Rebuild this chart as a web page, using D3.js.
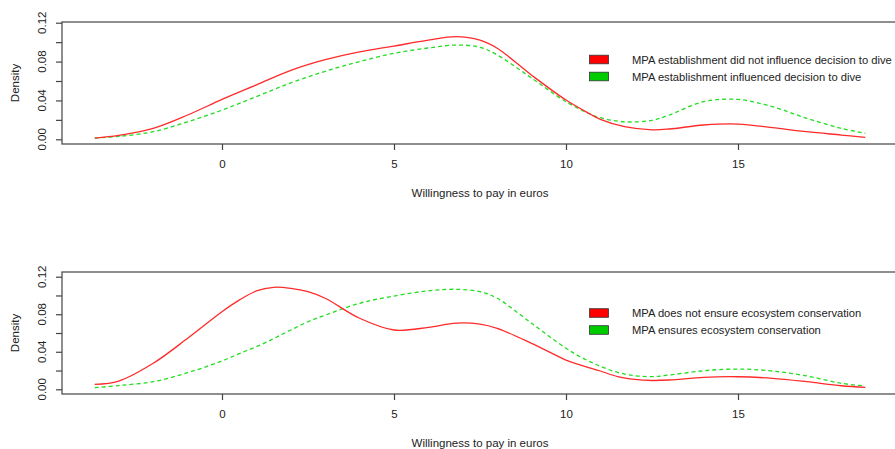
<!DOCTYPE html>
<html><head><meta charset="utf-8">
<script src="https://cdn.jsdelivr.net/npm/d3@7"></script>
<style>
body{margin:0;background:#fff;}
svg{display:block;font-family:"Liberation Sans",Arial,sans-serif;}
</style></head>
<body><svg id="c" width="895" height="449"></svg>
<script>
// x positions (willingness to pay, euros)
const xs1 = [-3.7,-3,-2,-1,0,1,2,3,4,5,6,6.8,7.5,8,9,10,10.7,11,11.7,12.5,13,14,15,16,17,18,18.7];
const topRed   = [0.0013,0.004,0.0113,0.025,0.041,0.056,0.071,0.082,0.090,0.096,0.102,0.1056,0.102,0.0937,0.066,0.0404,0.026,0.0205,0.013,0.0098,0.0106,0.0147,0.0157,0.012,0.0078,0.0044,0.002];
const topGreen = [0.0012,0.003,0.0078,0.018,0.030,0.044,0.058,0.070,0.080,0.0885,0.094,0.097,0.0947,0.0868,0.063,0.0387,0.026,0.0222,0.018,0.0195,0.025,0.0387,0.041,0.0336,0.0216,0.0113,0.0062];

const xs2 = [-3.7,-3,-2,-1,0,0.5,1,1.5,2,2.5,3,4,5,6,6.8,7.5,8,9,10,10.5,11,11.5,12,12.5,13,14,15,16,17,18,18.7];
const botRed   = [0.0053,0.0088,0.0277,0.0543,0.0827,0.095,0.1048,0.1087,0.1076,0.104,0.097,0.0757,0.0632,0.066,0.0705,0.0695,0.065,0.049,0.0312,0.025,0.0195,0.0135,0.0105,0.0094,0.0099,0.0128,0.0134,0.0117,0.0081,0.0038,0.002];
const botGreen = [0.0017,0.004,0.0081,0.0177,0.0302,0.038,0.0454,0.054,0.0632,0.072,0.079,0.0917,0.0994,0.105,0.1066,0.104,0.097,0.0703,0.0437,0.033,0.0245,0.018,0.0145,0.0135,0.0152,0.0198,0.0216,0.0195,0.0142,0.0064,0.0035];

const xTicks = [0,5,10,15];
const yTicks = [0,0.02,0.04,0.06,0.08,0.10,0.12];
const yLabels = [0,0.04,0.08,0.12];
const legend1 = ["MPA establishment did not influence decision to dive","MPA establishment influenced decision to dive"];
const legend2 = ["MPA does not ensure ecosystem conservation","MPA ensures ecosystem conservation"];
const xTitle = "Willingness to pay in euros";
const yTitle = "Density";

const svg = d3.select("#c");
const RED = "#ff2a2a", GREEN = "#22dd22";

function panel(p){
  const g = svg.append("g");
  const x = d3.scaleLinear().domain([0,15]).range([222,738]);
  const y = d3.scaleLinear().domain([0,0.12]).range([p.y0, p.y12]);
  g.append("rect").attr("x",62).attr("y",p.top).attr("width",900).attr("height",p.bottom-p.top)
    .attr("fill","none").attr("stroke","#444").attr("stroke-width",1.2);
  const xa = g.append("g").attr("transform",`translate(0,${p.bottom})`)
    .call(d3.axisBottom(x).tickValues(xTicks).tickSize(6).tickPadding(10).tickFormat(d3.format("d")));
  xa.select(".domain").remove();
  xa.selectAll("line").attr("stroke","#444").attr("stroke-width",1.2);
  xa.selectAll("text").attr("font-size",11.5).attr("fill","#222").attr("font-family","Liberation Sans, Arial, sans-serif");
  const ya = g.append("g").attr("transform","translate(62,0)")
    .call(d3.axisLeft(y).tickValues(yTicks).tickSize(6).tickFormat(""));
  ya.select(".domain").remove();
  ya.selectAll("line").attr("stroke","#444").attr("stroke-width",1.2);
  yLabels.forEach(v=>{
    g.append("text").attr("transform",`translate(46,${y(v)}) rotate(-90)`)
      .attr("text-anchor","middle").attr("font-size",11.5).attr("fill","#222").text(d3.format(".2f")(v));
  });
  g.append("text").attr("transform",`translate(19,${(p.top+p.bottom)/2}) rotate(-90)`)
    .attr("text-anchor","middle").attr("font-size",11.5).attr("fill","#222").text(yTitle);
  g.append("text").attr("x",480).attr("y",p.bottom+53).attr("text-anchor","middle")
    .attr("font-size",11.5).attr("fill","#222").text(xTitle);
  const line = d3.line().x(d=>x(d[0])).y(d=>y(d[1])).curve(d3.curveCatmullRom.alpha(0.5));
  g.append("path").datum(p.xs.map((v,i)=>[v,p.green[i]])).attr("d",line)
    .attr("fill","none").attr("stroke",GREEN).attr("stroke-width",1.3).attr("stroke-dasharray","4,3");
  g.append("path").datum(p.xs.map((v,i)=>[v,p.red[i]])).attr("d",line)
    .attr("fill","none").attr("stroke",RED).attr("stroke-width",1.3);
  const cols = ["#ff0000","#00cc00"];
  p.legend.forEach((t,i)=>{
    const cy = p.legY + i*17;
    g.append("rect").attr("x",589.5).attr("y",cy-4.3).attr("width",19).attr("height",8.6)
      .attr("fill",cols[i]).attr("stroke","#333").attr("stroke-width",0.8);
    g.append("text").attr("x",632).attr("y",cy+4).attr("font-size",11.2).attr("fill","#222").text(t);
  });
}
panel({top:22,bottom:144,y0:139.3,y12:22.7,xs:xs1,red:topRed,green:topGreen,legend:legend1,legY:59.5});
panel({top:272,bottom:394,y0:389.3,y12:276.7,xs:xs2,red:botRed,green:botGreen,legend:legend2,legY:313});
</script></body></html>
